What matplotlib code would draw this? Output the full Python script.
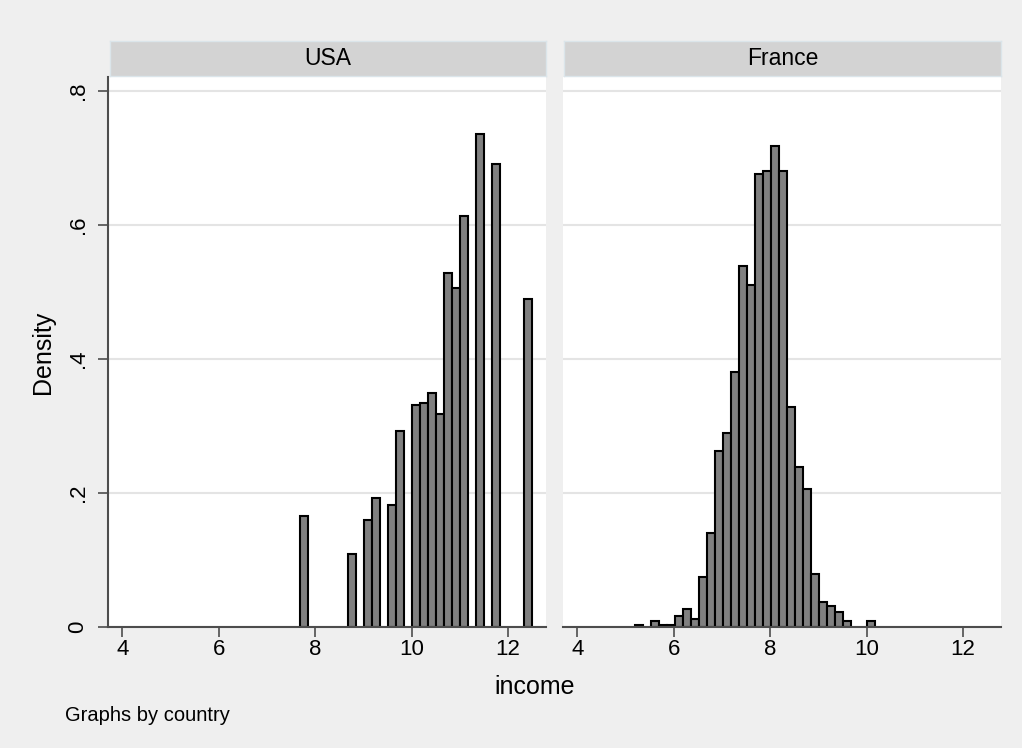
import numpy as np
import matplotlib.pyplot as plt

plt.rcParams['font.family'] = ['Liberation Sans', 'DejaVu Sans']

# histogram bins (density scale), one list per country
bin_width = 0.1661

usa_start = 7.683
usa_density = [0.165, 0, 0, 0, 0, 0, 0.109, 0, 0.159, 0.193, 0, 0.182, 0.292, 0,
               0.331, 0.335, 0.349, 0.318, 0.528, 0.506, 0.613, 0, 0.736, 0, 0.691,
               0, 0, 0, 0.490]

france_start = 5.184
france_density = [0.0035, 0, 0.0085, 0.0035, 0.0035, 0.017, 0.027, 0.012, 0.074, 0.140,
                  0.263, 0.290, 0.380, 0.539, 0.511, 0.676, 0.681, 0.718, 0.681, 0.328,
                  0.239, 0.206, 0.079, 0.037, 0.032, 0.023, 0.0095, 0, 0, 0.0095]

countries = ['USA', 'France']
starts = [usa_start, france_start]
densities = [usa_density, france_density]

x_ticks = [4, 6, 8, 10, 12]
y_ticks = [0, 0.2, 0.4, 0.6, 0.8]
y_ticklabels = ['0', '.2', '.4', '.6', '.8']

bg = '#efefef'
axis_col = '#4d4d4d'

W, H = 1022, 748
fig = plt.figure(figsize=(W / 100, H / 100), dpi=100, facecolor=bg)


def px_box(x0, y0, x1, y1):
    # pixel box (top-left origin) -> figure fraction rect
    return [x0 / W, (H - y1) / H, (x1 - x0) / W, (y1 - y0) / H]


panels = [(108, 546), (563, 1001)]

for k, (name, start, dens) in enumerate(zip(countries, starts, densities)):
    x0, x1 = panels[k]
    ax = fig.add_axes(px_box(x0, 77, x1, 627))
    ax.set_facecolor('white')

    dens = np.array(dens)
    lefts = start + np.arange(len(dens)) * bin_width
    keep = dens > 0
    ax.bar(lefts[keep], dens[keep], width=bin_width, align='edge',
           color='#808080', edgecolor='black', linewidth=1.5, zorder=3)

    ax.set_xlim(3.70, 12.79)
    ax.set_ylim(0, 0.821)
    ax.set_yticks(y_ticks)
    ax.set_xticks(x_ticks)
    ax.grid(axis='y', color='#e4e4e4', linewidth=1.5, zorder=0)
    ax.set_axisbelow(True)

    for s in ['top', 'right']:
        ax.spines[s].set_visible(False)
    ax.spines['bottom'].set_color(axis_col)
    ax.spines['bottom'].set_linewidth(1.5)
    ax.spines['bottom'].set_zorder(4)

    ax.tick_params(axis='x', length=7, width=1.2, color=axis_col, pad=1.5,
                   labelsize=16, labelcolor='black')
    if k == 0:
        ax.spines['left'].set_color(axis_col)
        ax.spines['left'].set_linewidth(1.5)
        ax.set_yticklabels(y_ticklabels, rotation=90, va='center')
        ax.tick_params(axis='y', length=7, width=1.2, color=axis_col, pad=7,
                       labelsize=16, labelcolor='black')
    else:
        ax.spines['left'].set_visible(False)
        ax.tick_params(axis='y', left=False, labelleft=False)

    # panel header strip
    sx0 = x0 + 2 if k == 0 else x0 + 1
    strip = fig.add_axes(px_box(sx0, 41, x1, 76))
    strip.set_facecolor('#d3d3d3')
    strip.set_xticks([])
    strip.set_yticks([])
    for s in strip.spines.values():
        s.set_color('#dbe5ea')
        s.set_linewidth(1)
    strip.text(0.5, 0.5, name, ha='center', va='center', fontsize=16.5,
               transform=strip.transAxes)

fig.text(43 / W, (H - 352) / H, 'Density', rotation=90, ha='center', va='center',
         fontsize=18)
fig.text(535 / W, (H - 694) / H, 'income', ha='center', va='baseline', fontsize=18)
fig.text(65 / W, (H - 721) / H, 'Graphs by country', ha='left', va='baseline',
         fontsize=14.5)

fig.savefig('out.png', dpi=100, facecolor=bg)
